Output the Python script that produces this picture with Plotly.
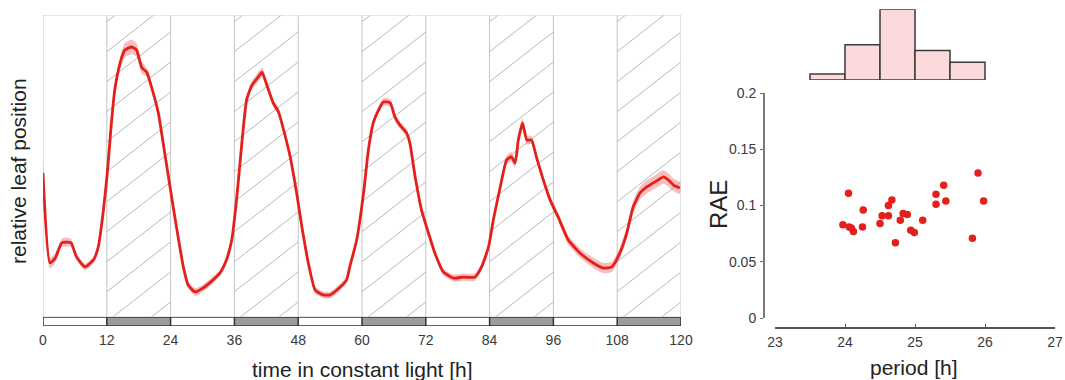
import plotly.graph_objects as go

# ---------------- data ----------------
hours = [0.0, 1.3, 2.3, 3.5, 4.5, 5.3, 6.3, 7.9, 9.5, 10.4, 11.3, 12.1, 12.8, 13.5, 14.5,
         15.4, 16.7, 17.6, 18.6, 19.5, 20.4, 21.7, 22.6, 23.9, 25.1, 26.4, 27.3, 28.6,
         30.1, 32.0, 33.3, 34.5, 35.5, 36.4, 37.4, 38.3, 39.3, 40.5, 41.2, 42.1, 43.3,
         44.3, 45.5, 46.5, 47.7, 48.7, 49.9, 51.2, 52.7, 54.0, 55.9, 57.1, 57.7, 59.0,
         60.3, 61.2, 62.1, 63.1, 64.0, 65.3, 66.2, 67.1, 68.4, 69.0, 70.0, 71.2, 72.5,
         73.7, 75.3, 77.2, 79.1, 81.2, 82.5, 83.8, 84.7, 86.0, 87.2, 88.1, 88.8, 89.4,
         90.2, 91.0, 91.9, 92.8, 94.1, 95.4, 96.9, 98.8, 101.0, 103.5, 105.4, 107.0,
         108.5, 109.8, 111.0, 112.3, 113.5, 114.8, 115.7, 116.7, 117.6, 118.6, 119.8]
position = [0.477, 0.179, 0.195, 0.245, 0.248, 0.245, 0.199, 0.166, 0.189, 0.232, 0.344,
            0.477, 0.629, 0.752, 0.841, 0.884, 0.894, 0.884, 0.825, 0.811, 0.762, 0.675,
            0.576, 0.430, 0.298, 0.166, 0.106, 0.083, 0.096, 0.123, 0.146, 0.189, 0.255,
            0.387, 0.576, 0.719, 0.768, 0.795, 0.811, 0.768, 0.709, 0.679, 0.603, 0.530,
            0.411, 0.298, 0.179, 0.089, 0.073, 0.073, 0.099, 0.123, 0.166, 0.255, 0.411,
            0.553, 0.642, 0.685, 0.712, 0.709, 0.662, 0.636, 0.609, 0.576, 0.464, 0.354,
            0.278, 0.212, 0.149, 0.129, 0.132, 0.132, 0.166, 0.232, 0.321, 0.430, 0.520,
            0.530, 0.510, 0.586, 0.642, 0.586, 0.586, 0.530, 0.454, 0.387, 0.331, 0.255,
            0.212, 0.179, 0.162, 0.166, 0.212, 0.278, 0.364, 0.411, 0.430, 0.444, 0.454,
            0.464, 0.454, 0.437, 0.427]
sem = [0.040, 0.018, 0.015, 0.014, 0.015, 0.013, 0.011, 0.011, 0.010, 0.010, 0.010,
       0.010, 0.012, 0.015, 0.020, 0.024, 0.024, 0.022, 0.020, 0.015, 0.012, 0.010,
       0.010, 0.010, 0.010, 0.010, 0.011, 0.013, 0.012, 0.011, 0.010, 0.010, 0.010,
       0.010, 0.010, 0.012, 0.014, 0.016, 0.016, 0.013, 0.012, 0.012, 0.010, 0.010,
       0.010, 0.010, 0.010, 0.011, 0.011, 0.011, 0.011, 0.010, 0.010, 0.010, 0.010,
       0.010, 0.011, 0.012, 0.013, 0.013, 0.012, 0.012, 0.012, 0.011, 0.010, 0.010,
       0.010, 0.010, 0.011, 0.012, 0.012, 0.012, 0.011, 0.011, 0.012, 0.013, 0.015,
       0.016, 0.016, 0.016, 0.017, 0.015, 0.013, 0.012, 0.012, 0.012, 0.013, 0.015,
       0.016, 0.017, 0.017, 0.017, 0.018, 0.019, 0.020, 0.021, 0.022, 0.022, 0.023,
       0.023, 0.022, 0.021, 0.020]

dark_starts = [12, 36, 60, 84, 108]
dark_length = 12
time_ticks = [0, 12, 24, 36, 48, 60, 72, 84, 96, 108, 120]

period = [23.97, 24.05, 24.06, 24.09, 24.12, 24.25, 24.26, 24.50, 24.53, 24.62, 24.62,
          24.67, 24.72, 24.79, 24.83, 24.89, 24.94, 24.99, 25.11, 25.30, 25.30, 25.41,
          25.44, 25.82, 25.90, 25.98]
rae = [0.083, 0.111, 0.081, 0.080, 0.077, 0.081, 0.096, 0.084, 0.091, 0.091, 0.100,
       0.105, 0.067, 0.087, 0.093, 0.092, 0.078, 0.076, 0.087, 0.110, 0.101, 0.118,
       0.104, 0.071, 0.129, 0.104]

hist_centers = [23.75, 24.25, 24.75, 25.25, 25.75]
hist_counts = [1, 6, 12, 5, 3]
hist_width = 0.5

period_ticks = [23, 24, 25, 26, 27]
rae_ticks = [0, 0.05, 0.1, 0.15, 0.2]
rae_ticktext = ["0", "0.05", "0.1", "0.15", "0.2"]

# ---------------- layout geometry (pixels) ----------------
W, H = 1065, 380
FONT = "Liberation Sans, Arial, sans-serif"


def fx(p):
    return p / W


def fy(p):
    return 1 - p / H


L_LEFT, L_RIGHT, L_TOP, L_BOTTOM, STRIP_BOTTOM = 43, 681, 15, 317, 326

fig = go.Figure()

# band + curve
upper = [p + s for p, s in zip(position, sem)]
lower = [p - s for p, s in zip(position, sem)]
fig.add_trace(go.Scatter(
    x=hours + hours[::-1], y=upper + lower[::-1], fill="toself",
    fillcolor="rgba(238,110,110,0.45)", line=dict(width=0, shape="spline", smoothing=0.5),
    hoverinfo="skip", xaxis="x", yaxis="y"))
fig.add_trace(go.Scatter(
    x=hours, y=position, mode="lines",
    line=dict(color="#e3201b", width=2.8, shape="spline", smoothing=0.5),
    xaxis="x", yaxis="y"))

# histogram
fig.add_trace(go.Bar(
    x=hist_centers, y=hist_counts, width=hist_width,
    marker=dict(color="#fcd9da", line=dict(color="#3a3a3a", width=1.5)),
    xaxis="x4", yaxis="y4"))

# scatter
fig.add_trace(go.Scatter(
    x=period, y=rae, mode="markers",
    marker=dict(color="#e3201b", size=7.5),
    xaxis="x3", yaxis="y3"))

shapes = []
# vertical separators in main panel
for t in time_ticks[1:-1]:
    shapes.append(dict(type="line", xref="x", yref="y", x0=t, x1=t, y0=0, y1=1,
                       line=dict(color="#c4c4c4", width=1), layer="below"))

# hatching in dark periods
ppx = (L_RIGHT - L_LEFT) / 120.0
ppy = float(L_BOTTOM - L_TOP)
slope, spacing, offset = 0.78, 30.0, 6.7
for a in dark_starts:
    wpx = dark_length * ppx
    k = 0
    while True:
        c = offset + spacing * k
        if c - slope * wpx > ppy:
            break
        xs = 0.0 if c <= ppy else (c - ppy) / slope
        xe = wpx if c - slope * wpx >= 0 else c / slope
        ys, ye = c - slope * xs, c - slope * xe
        if xe > xs:
            shapes.append(dict(type="line", xref="x", yref="y",
                               x0=a + xs / ppx, x1=a + xe / ppx,
                               y0=1 - ys / ppy, y1=1 - ye / ppy,
                               line=dict(color="#b8b8b8", width=1), layer="below"))
        k += 1

# main frame
shapes.append(dict(type="rect", xref="x", yref="y", x0=0, x1=120, y0=0, y1=1,
                   line=dict(color="#cfcfcf", width=1.2), layer="below"))

# light/dark strip
for a in dark_starts:
    shapes.append(dict(type="rect", xref="x", yref="y2", x0=a, x1=a + dark_length, y0=0, y1=1,
                       fillcolor="#9c9c9c", line=dict(width=0)))
shapes.append(dict(type="rect", xref="x", yref="y2", x0=0, x1=120, y0=0, y1=1,
                   line=dict(color="#333333", width=1.5)))
for t in time_ticks[1:-1]:
    shapes.append(dict(type="line", xref="x", yref="y2", x0=t, x1=t, y0=0, y1=1,
                       line=dict(color="#333333", width=1.5)))

tickfont = dict(family=FONT, size=14, color="#3a3a3a")
titlefont = dict(family=FONT, size=21, color="#222222")

annotations = [
    dict(text="time in constant light [h]", xref="paper", yref="paper",
         x=fx(362), y=fy(369), xanchor="center", yanchor="middle", showarrow=False, font=titlefont),
    dict(text="relative leaf position", xref="paper", yref="paper", textangle=-90,
         x=fx(19), y=fy(171), xanchor="center", yanchor="middle", showarrow=False, font=titlefont),
    dict(text="period [h]", xref="paper", yref="paper",
         x=fx(914), y=fy(367), xanchor="center", yanchor="middle", showarrow=False, font=titlefont),
    dict(text="RAE", xref="paper", yref="paper", textangle=-90,
         x=fx(718), y=fy(205), xanchor="center", yanchor="middle", showarrow=False,
         font=dict(family=FONT, size=24, color="#222222")),
]

fig.update_layout(
    width=W, height=H, margin=dict(l=0, r=0, t=0, b=0, pad=0, autoexpand=False),
    paper_bgcolor="white", plot_bgcolor="rgba(0,0,0,0)", showlegend=False,
    shapes=shapes, annotations=annotations, bargap=0,
    xaxis=dict(domain=[fx(L_LEFT), fx(L_RIGHT)], range=[0, 120], anchor="y2",
               tickvals=time_ticks, ticks="", showline=False, showgrid=False, zeroline=False,
               tickfont=tickfont, ticklabelstandoff=4, automargin=False),
    yaxis=dict(domain=[fy(L_BOTTOM), fy(L_TOP)], range=[0, 1], visible=False, anchor="x"),
    yaxis2=dict(domain=[fy(STRIP_BOTTOM), fy(L_BOTTOM)], range=[0, 1], visible=False, anchor="x"),
    xaxis3=dict(domain=[fx(775), fx(1055)], range=[23, 27], anchor="free", position=fy(327),
                showline=True, linecolor="#555555", linewidth=1.5, ticks="inside", ticklen=3,
                tickcolor="#555555", tickvals=period_ticks, showgrid=False, zeroline=False,
                tickfont=tickfont, ticklabelstandoff=2, automargin=False),
    yaxis3=dict(domain=[fy(318), fy(93)], range=[0, 0.2], anchor="free", position=fx(764),
                showline=True, linecolor="#7a7a7a", linewidth=2, ticks="outside", ticklen=3,
                tickcolor="#6a6a6a", tickvals=rae_ticks, ticktext=rae_ticktext,
                showgrid=False, zeroline=False, tickfont=tickfont, ticklabelstandoff=1,
                automargin=False),
    xaxis4=dict(domain=[fx(775), fx(1055)], range=[23, 27], anchor="y4", visible=False),
    yaxis4=dict(domain=[fy(80), fy(9.3)], range=[0, 12], anchor="x4", visible=False),
)

fig.write_html("out.html", config={"displayModeBar": False, "staticPlot": True},
               post_script="document.body.style.margin='0px';document.body.style.overflow='hidden';")
